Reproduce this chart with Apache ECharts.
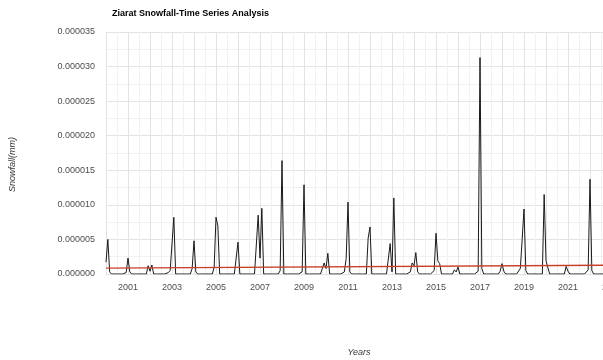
<!DOCTYPE html>
<html><head><meta charset="utf-8">
<script src="https://cdn.jsdelivr.net/npm/echarts@6/dist/echarts.min.js"></script>
<style>html,body{margin:0;padding:0;background:#fff}#c{width:603px;height:360px}</style>
</head><body><div id="c"></div>
<script>
const chartTitle = 'Ziarat Snowfall-Time Series Analysis';
const xTitle = 'Years';
const yTitle = 'Snowfall(mm)';
const startYear = 2000;
const unit = 1e-6; // values below are in units of 0.000001 mm
const snowfall = [
  // 2000
  1.7,5.0,0.3,0,0,0,0,0,0,0,0,0.2,
  // 2001
  2.3,0.3,0,0,0,0,0,0,0,0,0,1.2,
  // 2002
  0.4,1.3,0,0,0,0,0,0,0,0,0.2,0.5,
  // 2003
  0.5,8.2,0,0,0,0,0,0,0,0,0,0.8,
  // 2004
  4.8,0.3,0,0,0,0,0,0,0,0,0,1.0,
  // 2005
  8.2,7.0,0,0,0,0,0,0,0,0,0,0,
  // 2006
  4.6,0,0,0,0,0,0,0,0,0,0,8.5,
  // 2007
  2.3,9.5,0,0,0,0,0,0,0,0,0,0.5,
  // 2008
  16.4,0,0,0,0,0,0,0,0,0,0,0.3,
  // 2009
  12.9,0,0,0,0,0,0,0,0,0,0,1.6,
  // 2010
  0.8,3.0,0,0,0,0,0,0,0,0,0.3,2.2,
  // 2011
  10.4,0.3,0,0,0,0,0,0,0,0,0,5.2,
  // 2012
  6.8,0,0,0,0,0,0,0,0,0,0,4.4,
  // 2013
  0.3,11.0,0,0,0,0,0,0,0,0,0.3,1.6,
  // 2014
  1.2,3.1,0.3,0,0,0,0,0,0,0,0,0.5,
  // 2015
  5.9,1.9,1.5,0,0,0,0,0,0,0,0.6,0.3,
  // 2016
  1.0,0,0,0,0,0,0,0,0,0,0,0.4,
  // 2017
  31.3,0.8,0,0,0,0,0,0,0,0,0,0.4,
  // 2018
  1.5,0.4,0,0,0,0,0,0,0,0,0.8,5.0,
  // 2019
  9.4,0.5,0,0,0,0,0,0,0,0,0,11.5,
  // 2020
  1.9,1.8,0,0,0,0,0,0,0,0,0,1.1,
  // 2021
  0.4,0,0,0,0,0,0,0,0,0,0,0.6,
  // 2022
  13.7,0.5,0,0,0,0,0,0,0,0,0,0
];
const trendYears = [2000, 2023];
const trendValues = [0.85, 1.27];
const xTickLabels = ['2001','2003','2005','2007','2009','2011','2013','2015','2017','2019','2021','2023'];

const lineData = snowfall.map((v, i) => [startYear + i / 12, v * unit]);
const trendData = trendYears.map((y, i) => [y, trendValues[i] * unit]);

const chart = echarts.init(document.getElementById('c'));
chart.setOption({
  animation: false,
  backgroundColor: '#fff',
  title: {
    text: chartTitle, left: 107, top: 4,
    textStyle: {fontFamily: 'Liberation Sans', fontSize: 9, fontWeight: 'bold', color: '#000'}
  },
  graphic: [{
    type: 'text', left: 8, top: 137, rotation: Math.PI / 2,
    style: {text: yTitle, font: 'italic 9px "Liberation Sans"', fill: '#333'}
  }],
  grid: {left: 106, width: 506, top: 32, bottom: 86, containLabel: false, outerBoundsMode: 'none'},
  xAxis: {
    type: 'value', min: 2000, max: 2023, interval: 1,
    name: xTitle, nameLocation: 'middle', nameGap: 74,
    nameTextStyle: {fontFamily: 'Liberation Sans', fontSize: 9, fontStyle: 'italic', color: '#333'},
    axisLine: {show: false}, axisTick: {show: false},
    axisLabel: {
      fontFamily: 'Liberation Sans', fontSize: 9, color: '#4d4d4d', margin: 9,
      formatter: v => { const s = String(Math.round(v)); return xTickLabels.indexOf(s) >= 0 ? s : ''; }
    },
    splitLine: {show: true, lineStyle: {color: '#e3e3e3', width: 1}},
    minorTick: {show: false, splitNumber: 2},
    minorSplitLine: {show: true, lineStyle: {color: '#f1f1f1', width: 1}}
  },
  yAxis: {
    type: 'value', min: 0, max: 35e-6, interval: 5e-6,
    axisLine: {show: false}, axisTick: {show: false},
    axisLabel: {
      fontFamily: 'Liberation Sans', fontSize: 9, color: '#4d4d4d', margin: 11,
      formatter: v => v.toFixed(6)
    },
    splitLine: {show: true, lineStyle: {color: '#e3e3e3', width: 1}},
    minorTick: {show: false, splitNumber: 2},
    minorSplitLine: {show: true, lineStyle: {color: '#f1f1f1', width: 1}}
  },
  series: [
    {type: 'line', data: lineData, showSymbol: false, smooth: false,
     lineStyle: {color: '#1a1a1a', width: 1}, z: 3},
    {type: 'line', data: trendData, showSymbol: false,
     lineStyle: {color: '#c8402a', width: 1.3}, z: 4}
  ]
});
</script></body></html>
